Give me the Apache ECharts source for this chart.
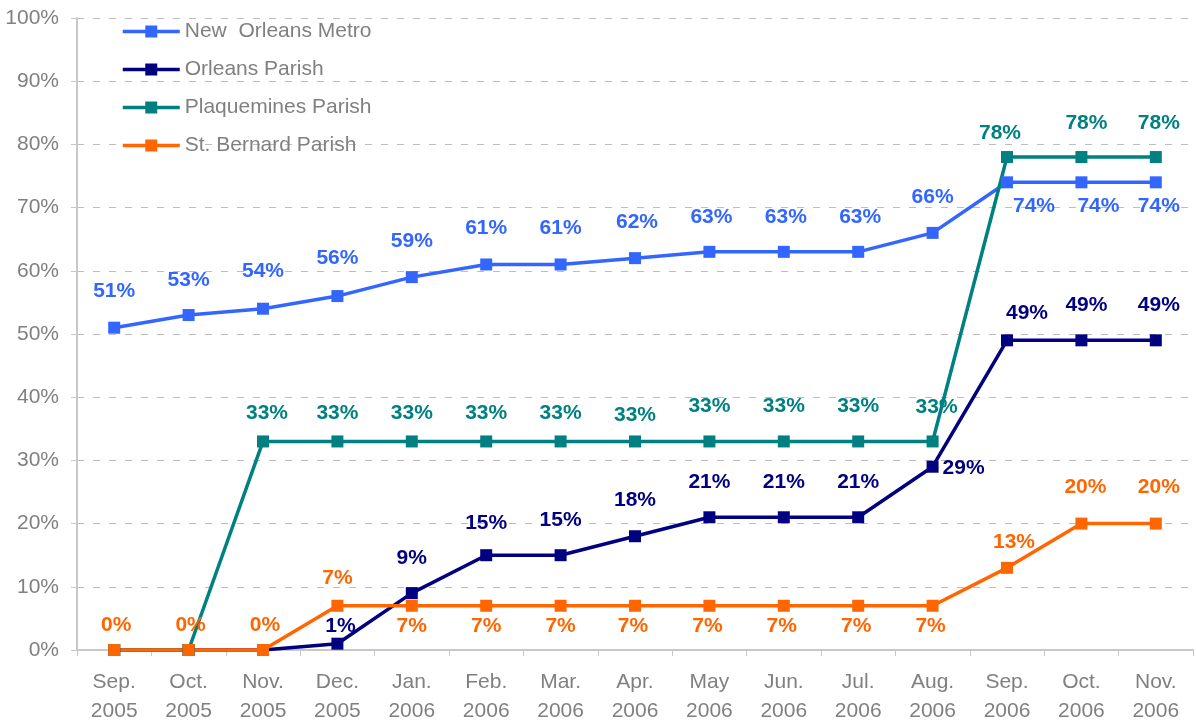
<!DOCTYPE html>
<html>
<head>
<meta charset="utf-8">
<script src="https://cdn.jsdelivr.net/npm/echarts@6/dist/echarts.min.js"></script>
<style>
  html, body { margin: 0; padding: 0; background: #fff; }
  #main { width: 1196px; height: 723px; }
</style>
</head>
<body>
<div id="main"></div>
<script>
var months = ['Sep.\n2005', 'Oct.\n2005', 'Nov.\n2005', 'Dec.\n2005', 'Jan.\n2006', 'Feb.\n2006', 'Mar.\n2006',
  'Apr.\n2006', 'May\n2006', 'Jun.\n2006', 'Jul.\n2006', 'Aug.\n2006', 'Sep.\n2006', 'Oct.\n2006', 'Nov.\n2006'];
var yTicks = [0, 10, 20, 30, 40, 50, 60, 70, 80, 90, 100];

var metro = [51, 53, 54, 56, 59, 61, 61, 62, 63, 63, 63, 66, 74, 74, 74];
var orleans = [0, 0, 0, 1, 9, 15, 15, 18, 21, 21, 21, 29, 49, 49, 49];
var plaquemines = [0, 0, 33, 33, 33, 33, 33, 33, 33, 33, 33, 33, 78, 78, 78];
var stBernard = [0, 0, 0, 7, 7, 7, 7, 7, 7, 7, 7, 7, 13, 20, 20];

// where each value label sits relative to its marker (null = hidden)
var metroLbl = [[0,-36],[0,-35],[0,-38],[0,-38],[0,-36],[0,-36],[0,-36],[2,-36],[2,-35],[2,-35],[2,-35],[0,-36],[27,24],[17,24],[3,24]];
var orleansLbl = [null,null,null,[3,-17],[0,-35],[0,-32],[0,-35],[0,-36],[0,-35],[0,-35],[0,-35],[31,1],[20,-27],[5,-35],[3,-35]];
var plaqLbl = [null,null,[4,-28],[0,-28],[0,-28],[0,-28],[0,-28],[0,-26],[0,-35],[0,-35],[0,-35],[4,-34],[-7,-24],[5,-34],[3,-34]];
var stbLbl = [[2,-25],[2,-25],[2,-25],[0,-28],[0,20],[0,20],[0,20],[-2,20],[-2,20],[-2,20],[-2,20],[-2,20],[7,-26],[4,-36],[3,-36]];

var font = '"Liberation Sans", Arial, sans-serif';

function makeSeries(name, values, offs, color) {
  return {
    name: name,
    type: 'line',
    symbol: 'rect',
    symbolSize: 12,
    lineStyle: { width: 3.5, color: color },
    itemStyle: { color: color },
    emphasis: { disabled: true },
    data: values.map(function (v, i) {
      var o = offs[i];
      return {
        value: v,
        label: o ? {
          show: true, position: 'inside', offset: o,
          formatter: '{c}%', color: color, fontWeight: 'bold', fontSize: 21, fontFamily: font
        } : { show: false }
      };
    })
  };
}

var myChart = echarts.init(document.getElementById('main'));
var option = {
  animation: false,
  backgroundColor: '#fff',
  grid: { left: 77, right: 3, top: 18, bottom: 73, outerBoundsMode: 'none' },
  legend: {
    orient: 'vertical',
    left: 116,
    top: 16,
    itemWidth: 57,
    itemHeight: 15,
    itemGap: 17,
    lineStyle: { width: 3.5 },
    textStyle: { color: '#808080', fontSize: 21, fontFamily: font, lineHeight: 21 },
    data: ['New  Orleans Metro', 'Orleans Parish', 'Plaquemines Parish', 'St. Bernard Parish']
  },
  xAxis: {
    type: 'category',
    data: months,
    boundaryGap: true,
    axisLine: { lineStyle: { color: '#c8c8c8', width: 2 } },
    axisTick: { show: true, length: 6, lineStyle: { color: '#c8c8c8', width: 1 } },
    axisLabel: { color: '#808080', fontSize: 21, fontFamily: font, lineHeight: 29, margin: 18, interval: 0 }
  },
  yAxis: {
    type: 'value',
    min: yTicks[0],
    max: yTicks[yTicks.length - 1],
    interval: 10,
    axisLine: { show: true, lineStyle: { color: '#c8c8c8', width: 2 } },
    axisTick: { show: true, length: 6, lineStyle: { color: '#c8c8c8' } },
    axisLabel: { color: '#808080', fontSize: 21, fontFamily: font, margin: 18, formatter: '{value}%' },
    splitLine: { show: true, lineStyle: { color: '#bdbdbd', type: [7, 9], width: 1 } }
  },
  series: [
    makeSeries('New  Orleans Metro', metro, metroLbl, '#3366ff'),
    makeSeries('Orleans Parish', orleans, orleansLbl, '#000080'),
    makeSeries('Plaquemines Parish', plaquemines, plaqLbl, '#008080'),
    makeSeries('St. Bernard Parish', stBernard, stbLbl, '#ff6600')
  ]
};
myChart.setOption(option);
</script>
</body>
</html>
